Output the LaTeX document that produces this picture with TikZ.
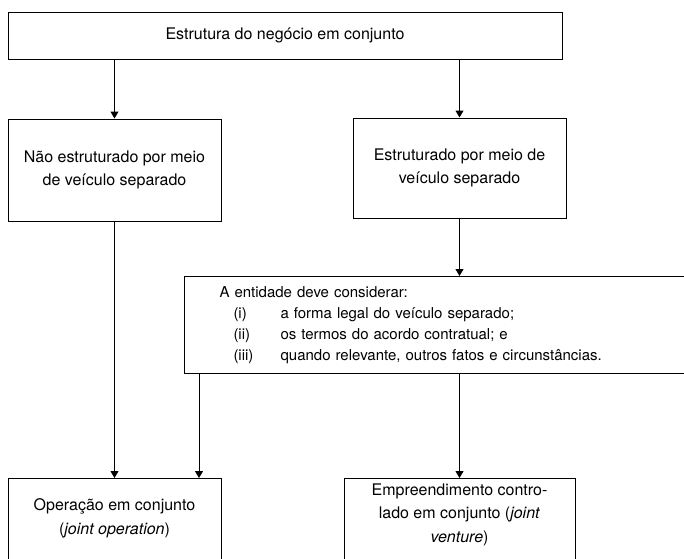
\documentclass[tikz,border=0pt]{standalone}
\usepackage{fontspec}
\setmainfont{TeX Gyre Heros}
\usetikzlibrary{arrows.meta}
\begin{document}
\begin{tikzpicture}[x=1pt,y=-1pt,
  box/.style={draw, line width=1pt, inner sep=0pt, align=center,
    font=\fontsize{16}{22.5}\selectfont},
  txt/.style={inner sep=0pt, align=center, font=\fontsize{16}{23.5}\selectfont},
  arr/.style={line width=1pt, -{Triangle[width=8pt,length=7pt]}}]
\useasboundingbox (0,0) rectangle (684,558);
\clip (0,0) rectangle (684,558);
\node[box, minimum width=554pt, minimum height=47pt] (T) at (285,35.5) {Estrutura do negócio em conjunto};
\node[box, minimum width=213pt, minimum height=102pt] (L) at (114.5,170) {Não estruturado por meio\\de veículo separado};
\node[box, minimum width=213pt, minimum height=100pt] (R) at (459.5,168) {Estruturado por meio de\\veículo separado};
\node[box, minimum width=510pt, minimum height=97pt, text width=440pt, align=left,
  font=\fontsize{15}{21}\selectfont, anchor=north west] (B) at (184,276)
  {A entidade deve considerar:\\
   \hspace*{14pt}\makebox[47pt][l]{(i)}a forma legal do veículo separado;\\
   \hspace*{14pt}\makebox[47pt][l]{(ii)}os termos do acordo contratual; e\\
   \hspace*{14pt}\makebox[47pt][l]{(iii)}quando relevante, outros fatos e circunstâncias.};
\node[box, minimum width=213pt, minimum height=92pt, anchor=north] (O) at (114.5,478) {};
\node[txt] (Ot) at (114.5,518.5) {Operação em conjunto\\(\textit{joint operation})};
\node[box, minimum width=231pt, minimum height=92pt, anchor=north] (E) at (459.5,478) {};
\node[txt] (Et) at (459.5,514.5) {Empreendimento contro-\\lado em conjunto (\textit{joint}\\\textit{venture})};
\coordinate (c1) at (199,0);
\draw[arr] (T.south -| L.north) -- (L.north);
\draw[arr] (T.south -| R.north) -- (R.north);
\draw[arr] (R.south) -- (R.south |- B.north);
\draw[arr] (L.south) -- (O.north);
\draw[arr] (B.south -| c1) -- (O.north -| c1);
\draw[arr] (E.north |- B.south) -- (E.north);
\end{tikzpicture}
\end{document}
